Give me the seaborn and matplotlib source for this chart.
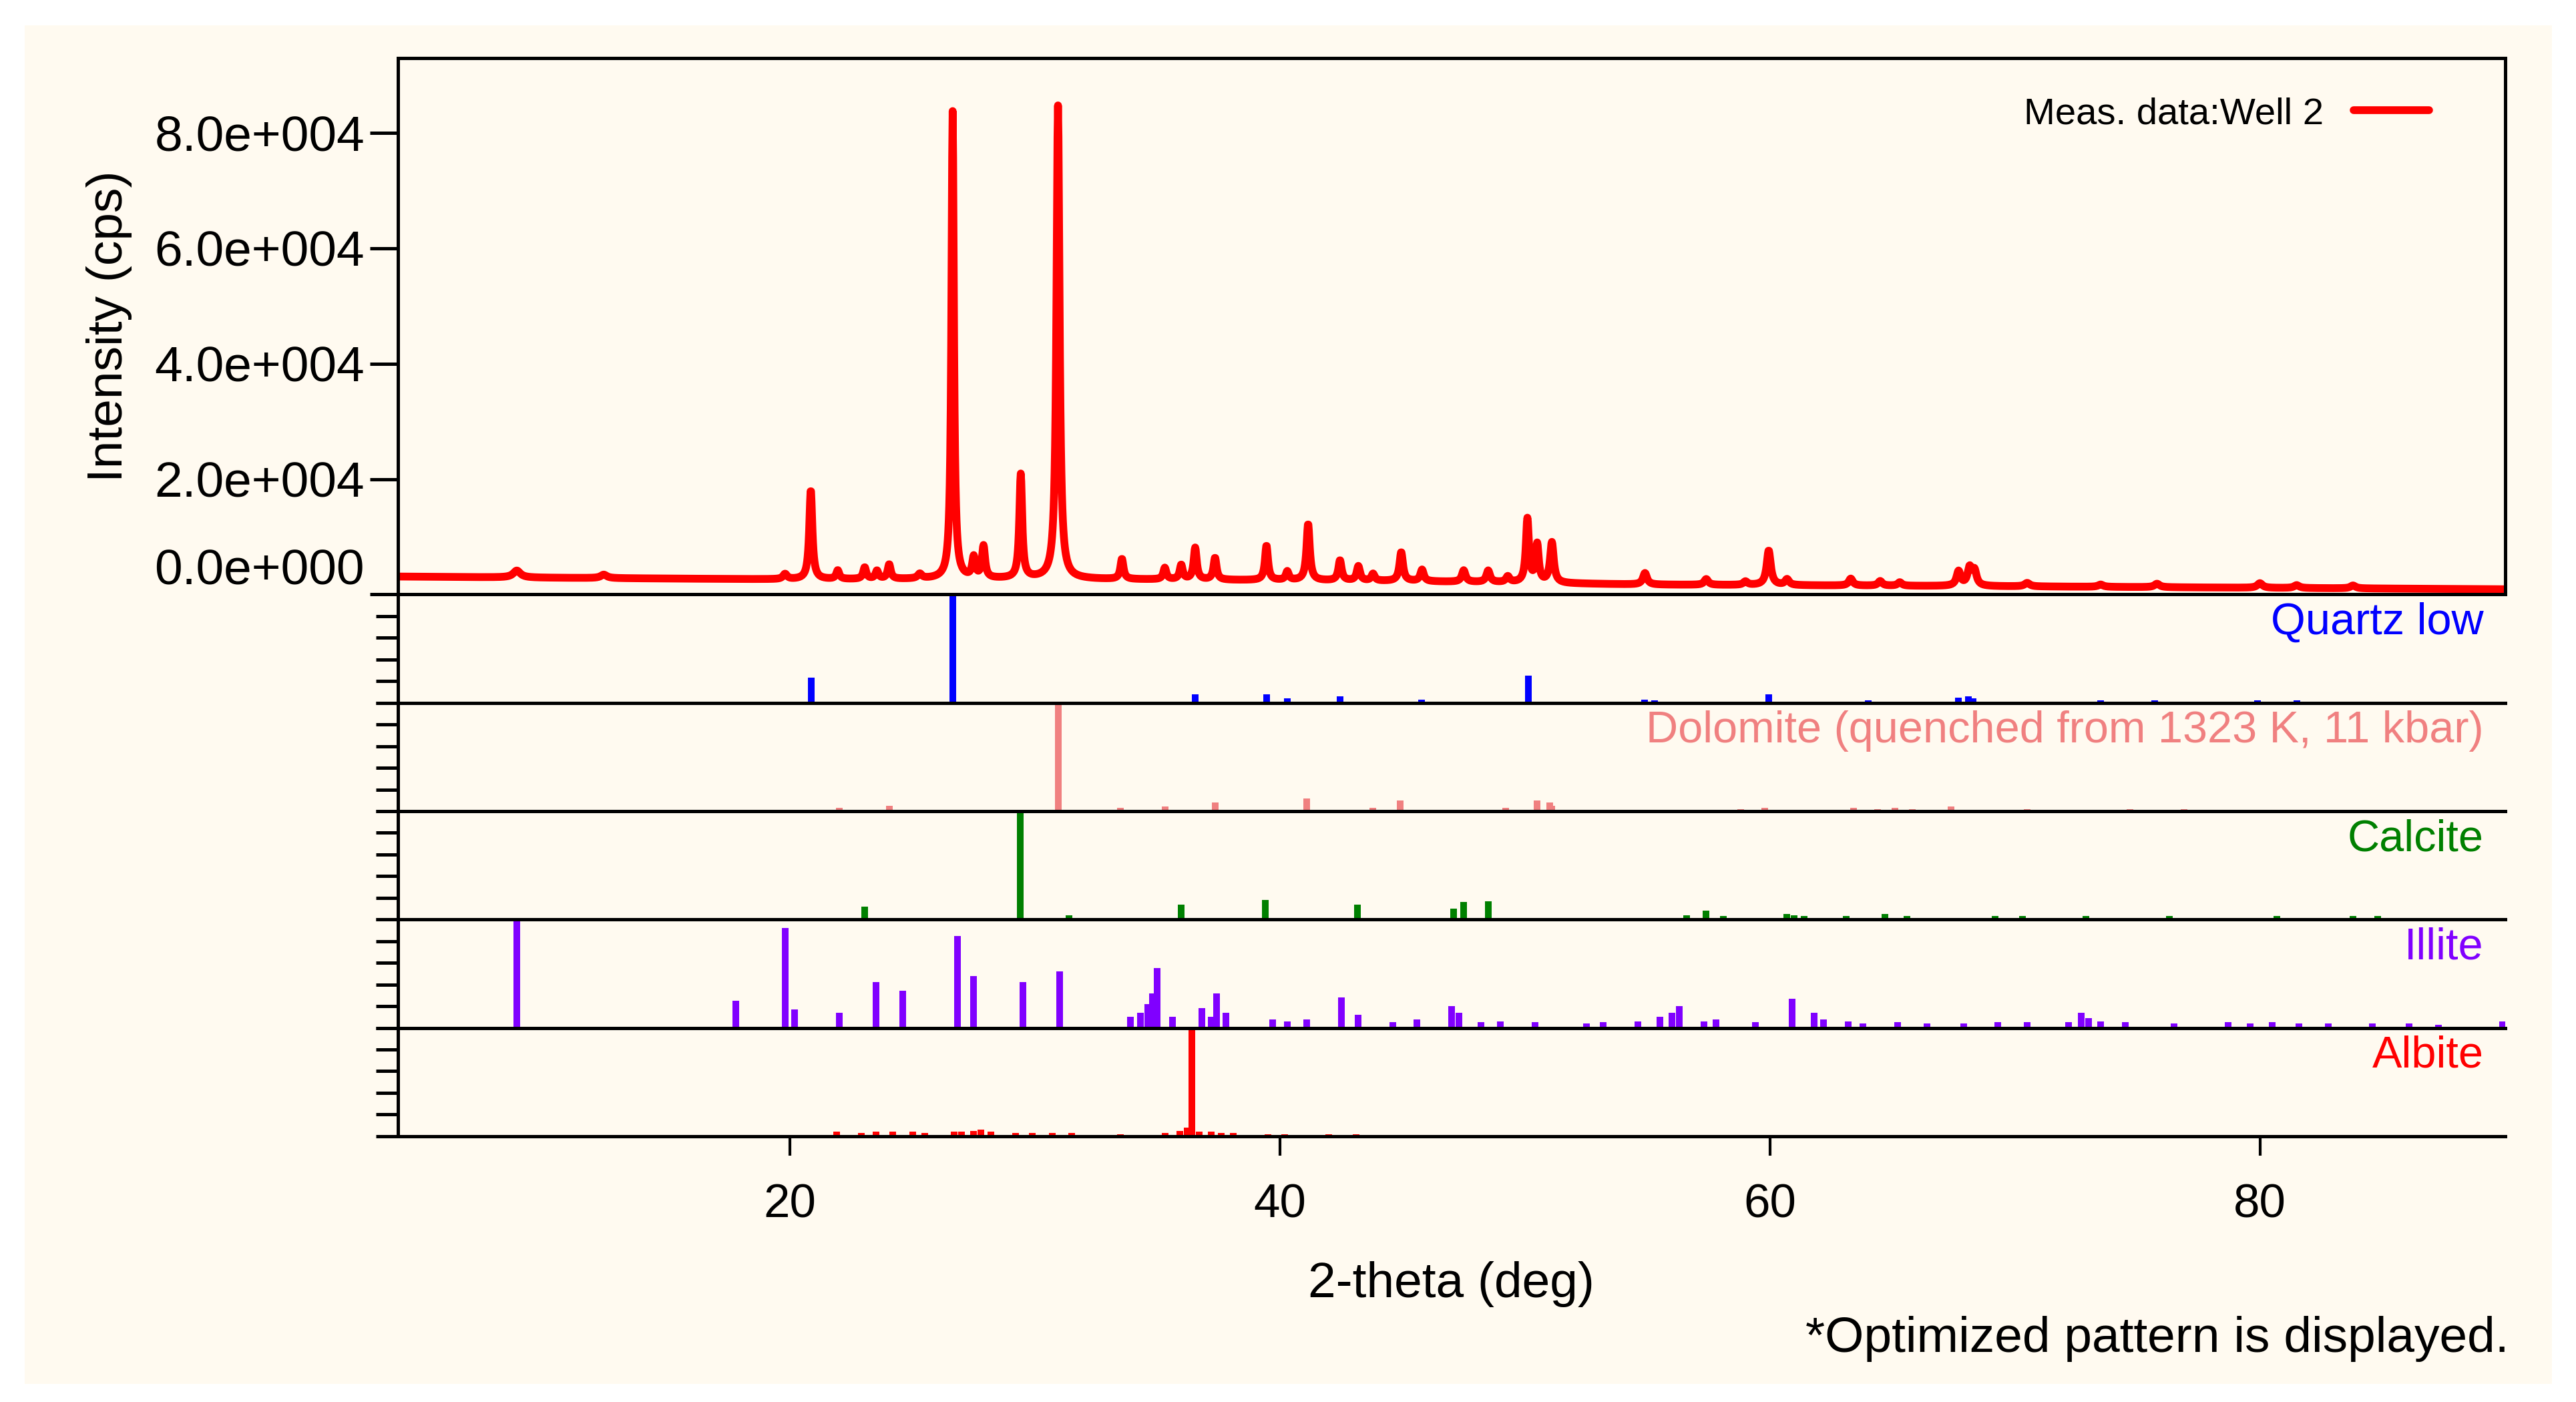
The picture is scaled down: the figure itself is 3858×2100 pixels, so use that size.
### DEPENDENCIES ###
import numpy as np
import pandas as pd
import matplotlib
matplotlib.use('Agg')
import matplotlib.pyplot as plt
import seaborn as sns

sns.set_theme(style='white')
plt.rcParams['font.family'] = ['Liberation Sans', 'DejaVu Sans']
plt.rcParams['text.color'] = 'black'
plt.rcParams['axes.labelcolor'] = 'black'
plt.rcParams['xtick.color'] = 'black'
plt.rcParams['ytick.color'] = 'black'

CREAM = '#fffaf0'

### DATA ###
# measured pattern: background points + peak list (2-theta, height cps, fwhm deg)
bg_theta = [4, 10, 20, 30, 45, 55, 70, 90]
bg_cps = [3100, 2900, 2600, 2700, 2300, 1700, 1400, 900]
peak_theta = [8.85, 12.4, 19.8, 20.85, 21.95, 23.05, 23.55, 24.05, 25.3, 26.64, 27.5, 27.9, 29.42, 30.94,
              33.55, 35.3, 35.97, 36.54, 37.35, 39.45, 40.3, 41.15, 42.45, 43.2, 43.8, 44.95, 45.8, 47.5,
              48.5, 49.3, 50.1, 50.5, 51.1, 54.9, 57.4, 59.0, 59.95, 60.7, 63.3, 64.5, 65.3, 67.7, 68.15,
              68.35, 70.5, 73.5, 75.8, 80.0, 81.5, 83.8]
peak_cps = [1200, 600, 900, 15500, 1500, 2000, 1400, 2500, 800, 81000, 3500, 5500, 18000, 82000,
            3500, 2000, 2500, 5500, 3800, 6000, 1500, 9800, 3500, 2500, 1200, 5000, 2000, 2000,
            2000, 1000, 11000, 6500, 7000, 2000, 1000, 600, 6000, 1000, 1200, 800, 600, 2500, 3000,
            2500, 600, 400, 600, 800, 500, 500]
peak_fwhm = [0.35, 0.3, 0.2, 0.15, 0.15, 0.15, 0.15, 0.15, 0.2, 0.12, 0.15, 0.15, 0.14, 0.15,
             0.15, 0.15, 0.15, 0.15, 0.15, 0.15, 0.15, 0.16, 0.16, 0.16, 0.16, 0.17, 0.17, 0.18,
             0.18, 0.18, 0.15, 0.15, 0.18, 0.2, 0.2, 0.2, 0.2, 0.2, 0.2, 0.2, 0.2, 0.2, 0.2,
             0.2, 0.25, 0.25, 0.25, 0.25, 0.25, 0.25]

# reference sticks: (2-theta, relative intensity %)
quartz_theta = [20.86, 26.64, 36.54, 39.46, 40.29, 42.45, 45.79, 50.14, 54.87, 55.3, 57.2, 59.96, 64.0,
                65.8, 67.7, 68.1, 68.3, 73.5, 75.7, 77.7, 79.9, 81.5, 83.8]
quartz_int = [23, 100, 8, 8, 4, 6, 3, 25, 3, 2, 1, 8, 2, 1, 5, 6, 4, 2, 2, 1, 2, 2, 1]
dolomite_theta = [22.0, 24.05, 30.94, 33.5, 35.3, 37.35, 41.1, 43.8, 44.9, 49.2, 50.5, 51.0, 51.1, 58.8,
                  59.8, 63.4, 64.4, 65.1, 65.8, 67.4, 70.5, 74.7, 76.9]
dolomite_int = [3, 5, 100, 3, 4, 8, 12, 3, 10, 3, 10, 8, 5, 2, 3, 3, 2, 3, 2, 4, 2, 2, 2]
calcite_theta = [23.05, 29.4, 31.4, 35.97, 39.4, 43.15, 47.1, 47.5, 48.5, 56.6, 57.4, 58.1, 60.7, 61.0,
                 61.4, 63.1, 64.7, 65.6, 69.2, 70.3, 72.9, 76.3, 80.7, 83.8, 84.8]
calcite_int = [12, 100, 4, 14, 18, 14, 10, 16, 17, 4, 8, 3, 5, 4, 3, 3, 5, 3, 3, 3, 3, 3, 3, 3, 3]
illite_theta = [8.85, 17.8, 19.8, 20.2, 22.0, 23.5, 24.6, 26.85, 27.5, 29.5, 31.0, 33.9, 34.3, 34.6, 34.8,
                35.0, 35.6, 36.8, 37.2, 37.4, 37.8, 39.7, 40.3, 41.1, 42.5, 43.2, 44.6, 45.6, 47.0,
                47.3, 48.2, 49.0, 50.4, 52.5, 53.2, 54.6, 55.5, 56.0, 56.3, 57.3, 57.8, 59.4, 60.9,
                61.8, 62.2, 63.2, 63.8, 65.2, 66.4, 67.9, 69.3, 70.5, 72.2, 72.7, 73.0, 73.5, 74.5,
                76.5, 78.7, 79.6, 80.5, 81.6, 82.8, 84.6, 86.1, 87.3, 89.9]
illite_int = [100, 25, 92, 17, 14, 42, 34, 85, 48, 42, 52, 10, 14, 22, 32,
              55, 10, 18, 10, 32, 14, 8, 6, 8, 28, 12, 5, 8, 20,
              14, 5, 6, 5, 4, 5, 6, 10, 14, 20, 6, 8, 5, 27,
              14, 8, 6, 4, 5, 4, 4, 5, 5, 5, 14, 9, 6, 5,
              4, 5, 4, 5, 4, 4, 4, 4, 3, 6]
albite_theta = [21.9, 22.9, 23.5, 24.2, 25.0, 25.5, 26.7, 27.0, 27.5, 27.8, 28.2, 29.2, 29.9, 30.7, 31.5,
                33.5, 35.3, 35.9, 36.2, 36.4, 36.7, 37.2, 37.6, 38.1, 39.5, 40.2, 42.0, 43.1]
albite_int = [4, 3, 4, 4, 4, 3, 4, 4, 5, 6, 4, 3, 3, 3, 3, 2, 3, 5, 8, 100, 4, 4, 3, 3, 2, 2, 2, 2]

phases = [('Quartz low', quartz_theta, quartz_int, '#0000ff'),
          ('Dolomite (quenched from 1323 K, 11 kbar)', dolomite_theta, dolomite_int, '#f08080'),
          ('Calcite', calcite_theta, calcite_int, '#008000'),
          ('Illite', illite_theta, illite_int, '#8000ff'),
          ('Albite', albite_theta, albite_int, '#ff0000')]

### BUILD MEASURED PROFILE ###
theta = np.arange(4, 90.01, 0.02)
cps = np.interp(theta, bg_theta, bg_cps)
for p, h, w in zip(peak_theta, peak_cps, peak_fwhm):
    cps = cps + h / (1 + ((theta - p) / (w / 2)) ** 2)
meas = pd.DataFrame({'theta': theta, 'cps': cps})

### FIGURE ###
fig = plt.figure(figsize=(12.86, 7.0), dpi=300, facecolor='white')
fig.patches.append(plt.Rectangle((0.0096, 0.013), 0.981, 0.969, transform=fig.transFigure,
                                 facecolor=CREAM, edgecolor='none', zorder=-10))

L, R = 0.1545, 0.9724
top_main, bot_main = 0.9588, 0.576
panel_h = (bot_main - 0.1896) / 5

ax = fig.add_axes([L, bot_main, R - L, top_main - bot_main])
ax.set_facecolor(CREAM)
sns.lineplot(data=meas, x='theta', y='cps', ax=ax, color='#ff0000', lw=2.8, label='Meas. data:Well 2')
ax.set_xlim(4, 90)
ax.set_ylim(0, 93000)
ax.set_yticks([0, 20000, 40000, 60000, 80000])
ax.set_yticklabels(['0.0e+000', '2.0e+004', '4.0e+004', '6.0e+004', '8.0e+004'])
ax.get_yticklabels()[0].set_va('bottom')
ax.set_xticks([])
ax.set_xlabel('')
ax.set_ylabel('Intensity (cps)', fontsize=18, labelpad=8)
ax.tick_params(axis='y', direction='out', length=10, width=1.2, labelsize=18, left=True, pad=2)
for s in ax.spines.values():
    s.set_color('black')
    s.set_linewidth(1.2)
leg = ax.legend(loc='upper right', frameon=False, markerfirst=False, fontsize=13.5,
                handlelength=2.0, bbox_to_anchor=(0.98, 0.99))

for i, (name, th, it, col) in enumerate(phases):
    bottom = bot_main - (i + 1) * panel_h
    sax = fig.add_axes([L, bottom, R - L, panel_h])
    sax.set_facecolor(CREAM)
    sax.vlines(th, 0, it, color=col, lw=2.4)
    sax.set_xlim(4, 90)
    sax.set_ylim(0, 100)
    sax.set_yticks([0, 20, 40, 60, 80, 100])
    sax.set_yticklabels([])
    sax.tick_params(axis='y', direction='out', length=8, width=1.2, left=True)
    sax.spines['right'].set_visible(False)
    for s in ['left', 'top', 'bottom']:
        sax.spines[s].set_color('black')
        sax.spines[s].set_linewidth(1.2)
    sax.text(0.99, 0.93, name, transform=sax.transAxes, ha='right', va='top', color=col, fontsize=16)
    if i < 4:
        sax.set_xticks([])
    else:
        sax.set_xticks([20, 40, 60, 80])
        sax.tick_params(axis='x', direction='out', length=7, width=1, labelsize=17, bottom=True, pad=10)
        sax.set_xlabel('2-theta (deg)', fontsize=18, labelpad=12)

fig.text(0.974, 0.045, '*Optimized pattern is displayed.', ha='right', va='center', fontsize=18)

fig.savefig('out.png', dpi=300, facecolor='white')
